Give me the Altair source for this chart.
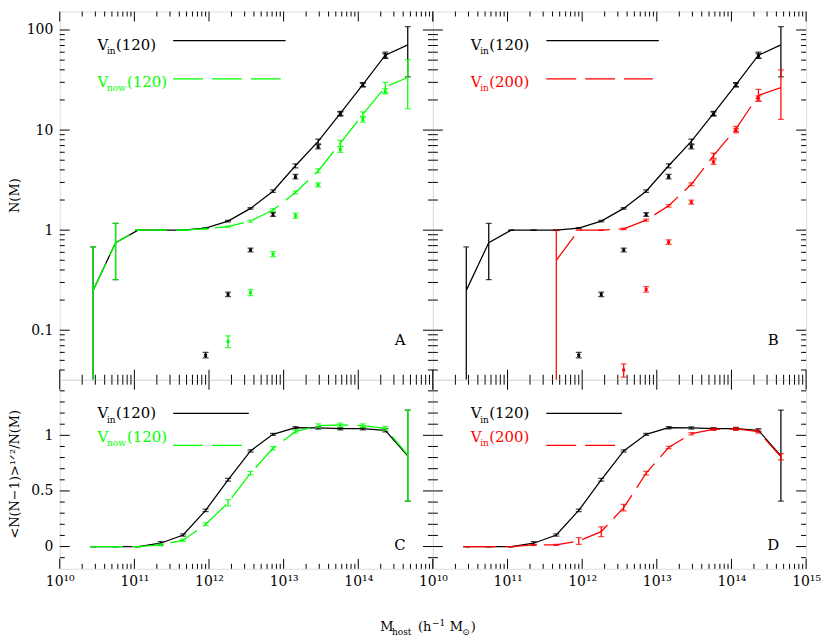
import altair as alt
import pandas as pd

FONT = "DejaVu Serif"
W, HT, HB = 375, 370, 190
BLACK, GREEN, RED = "#000000", "#00ff00", "#ff0000"
DASH = [30, 9]
LW = 1.25

# host-mass bin centres (h^-1 Msun)
MASS = [2.8e10, 5.6e10, 1.12e11, 2.24e11, 4.5e11, 9.0e11, 1.8e12, 3.6e12,
        7.2e12, 1.44e13, 2.9e13, 5.75e13, 1.15e14, 2.3e14, 4.6e14]

# ---------------- N(M) : panels A and B ----------------
N_IN120 = [0.25, 0.75, 1.0, 1.0, 1.0, 1.05, 1.23, 1.65, 2.45, 4.4, 7.7, 14.7, 28.5, 56, 71]
N_IN120_LO = [0.001, 0.32, 1.0, 1.0, 1.0, 1.04, 1.21, 1.62, 2.38, 4.2, 7.3, 14.0, 27.2, 52, 34]
N_IN120_HI = [0.68, 1.17, 1.0, 1.0, 1.0, 1.06, 1.25, 1.68, 2.52, 4.6, 8.1, 15.4, 29.8, 60, 108]

N_NOW120 = [0.25, 0.75, 1.0, 1.0, 1.0, 1.03, 1.085, 1.23, 1.59, 2.38, 3.9, 7.4, 14.3, 27, 33.5]
N_NOW120_LO = [0.001, 0.32, 1.0, 1.0, 1.0, 1.02, 1.07, 1.2, 1.54, 2.3, 3.75, 6.9, 13.5, 23.5, 16.3]
N_NOW120_HI = [0.68, 1.17, 1.0, 1.0, 1.0, 1.04, 1.10, 1.26, 1.64, 2.46, 4.1, 7.9, 15.2, 30, 50.5]

M_IN200 = MASS[4:]
N_IN200 = [0.5, 1.0, 1.0, 1.03, 1.26, 1.75, 2.87, 5.55, 10.3, 22.2, 26.6]
N_IN200_LO = [0.001, 1.0, 1.0, 1.01, 1.23, 1.70, 2.78, 5.2, 9.7, 19.5, 12.8]
N_IN200_HI = [1.0, 1.0, 1.0, 1.05, 1.29, 1.80, 2.97, 5.9, 10.9, 25.5, 40]

# isolated points (no line)
DOT_IN120_M = MASS[5:14]
DOT_IN120 = [0.056, 0.228, 0.633, 1.43, 3.41, 6.8, 14.4, 28.2, 55]
DOT_IN120_LO = [0.053, 0.217, 0.607, 1.37, 3.25, 6.5, 13.8, 27, 52.5]
DOT_IN120_HI = [0.060, 0.240, 0.660, 1.50, 3.6, 7.15, 15.1, 29.5, 58]

DOT_NOW120_M = MASS[6:14]
DOT_NOW120 = [0.077, 0.237, 0.575, 1.39, 2.83, 6.4, 12.8, 24.3]
DOT_NOW120_LO = [0.067, 0.222, 0.545, 1.31, 2.7, 6.0, 12.0, 23.0]
DOT_NOW120_HI = [0.088, 0.255, 0.610, 1.48, 2.97, 6.85, 13.7, 26.0]

DOT_IN200_M = MASS[7:14]
DOT_IN200 = [0.040, 0.255, 0.76, 1.9, 4.8, 9.9, 20.8]
DOT_IN200_LO = [0.034, 0.240, 0.72, 1.82, 4.55, 9.4, 19.5]
DOT_IN200_HI = [0.046, 0.272, 0.80, 1.99, 5.05, 10.4, 22.0]

# ---------------- <N(N-1)>^1/2 / N(M) : panels C and D ----------------
C_IN120 = [0, 0, 0, 0.03, 0.104, 0.325, 0.60, 0.86, 1.009, 1.069, 1.066, 1.060, 1.060, 1.045, 0.815]
C_IN120_LO = [0, 0, 0, 0.015, 0.094, 0.313, 0.588, 0.85, 1.0, 1.059, 1.056, 1.05, 1.048, 1.03, 0.408]
C_IN120_HI = [0, 0, 0, 0.045, 0.114, 0.337, 0.612, 0.87, 1.018, 1.079, 1.076, 1.07, 1.072, 1.06, 1.227]

C_NOW120 = [0, 0, 0, 0.015, 0.057, 0.20, 0.393, 0.66, 0.884, 1.033, 1.087, 1.093, 1.087, 1.063, 0.825]
C_NOW120_LO = [0, 0, 0, 0.005, 0.047, 0.188, 0.365, 0.645, 0.87, 1.02, 1.07, 1.076, 1.07, 1.045, 0.408]
C_NOW120_HI = [0, 0, 0, 0.025, 0.067, 0.212, 0.421, 0.675, 0.898, 1.046, 1.104, 1.11, 1.104, 1.081, 1.227]

C_IN200 = [0, 0, 0, 0.015, 0.015, 0.05, 0.134, 0.35, 0.66, 0.89, 1.015, 1.054, 1.057, 1.033, 0.807]
C_IN200_LO = [0, 0, 0, 0.01, 0.01, 0.02, 0.09, 0.32, 0.645, 0.88, 1.005, 1.044, 1.045, 1.02, 0.78]
C_IN200_HI = [0, 0, 0, 0.02, 0.02, 0.08, 0.178, 0.38, 0.675, 0.90, 1.025, 1.064, 1.069, 1.046, 0.835]

# ---------------- axes / ticks ----------------
X_DOMAIN = [1e10, 1e15]
Y_TOP_DOMAIN = [0.032, 153]
Y_BOT_DOMAIN = [-0.2, 1.5]
X_EXPONENTS = [10, 11, 12, 13, 14, 15]
X_MAJOR = [1e10, 1e11, 1e12, 1e13, 1e14, 1e15]
X_MINOR = [k * 10.0 ** e for e in range(10, 15) for k in range(2, 10)]
YT_MAJOR = [0.1, 1, 10, 100]
YT_LABELS = [0.1, 1, 10, 100]
YT_MINOR = [v for v in (k * 10.0 ** e for e in range(-2, 3) for k in range(2, 10))
            if Y_TOP_DOMAIN[0] <= v <= Y_TOP_DOMAIN[1]]
YB_MAJOR = [0, 0.5, 1.0]
YB_LABELS = [0, 0.5, 1]
YB_MINOR = [-0.1, 0.1, 0.2, 0.3, 0.4, 0.6, 0.7, 0.8, 0.9, 1.1, 1.2, 1.3, 1.4]

SUP = str.maketrans("0123456789-", "⁰¹²³⁴⁵⁶⁷⁸⁹⁻")
LABEL_SIZE = 14


def x_axis(exps):
    if not exps:
        return None
    expr = " : ".join(f"round(log(datum.value)/LN10) == {e} ? '10{str(e).translate(SUP)}'"
                      for e in exps) + " : ''"
    return alt.Axis(values=[10.0 ** e for e in exps], labelExpr=expr, ticks=False, tickSize=0,
                    domain=False, grid=False, title=None, labelFont=FONT,
                    labelFontSize=LABEL_SIZE, labelPadding=6, labelColor="black",
                    labelFlush=False, labelOverlap=False)


def y_axis(vals):
    if not vals:
        return None
    return alt.Axis(values=vals, format="~g", ticks=False, tickSize=0, domain=False, grid=False,
                    title=None, labelFont=FONT, labelFontSize=LABEL_SIZE, labelPadding=7,
                    labelColor="black", labelOverlap=False)


def make_panel(top, xexps, ylabels, series, dots, legend, letter):
    H = HT if top else HB
    xscale = alt.Scale(type="log", domain=X_DOMAIN, nice=False)
    if top:
        yscale = alt.Scale(type="log", domain=Y_TOP_DOMAIN, nice=False)
    else:
        yscale = alt.Scale(type="linear", domain=Y_BOT_DOMAIN, nice=False, zero=False)
    xax = x_axis(xexps)
    yax = y_axis(ylabels)

    def X():
        return alt.X("m:Q", scale=xscale, axis=xax)

    def Y(field="n"):
        return alt.Y(f"{field}:Q", scale=yscale, axis=yax)

    layers = []
    # inward ticks on all four edges
    ymaj, ymin = (YT_MAJOR, YT_MINOR) if top else (YB_MAJOR, YB_MINOR)
    for vals, ln in ((X_MAJOR, 10), (X_MINOR, 5)):
        d = pd.DataFrame({"m": vals})
        layers.append(alt.Chart(d).mark_rule(color="black", strokeWidth=1).encode(
            x=X(), y=alt.value(0), y2=alt.value(ln)))
        layers.append(alt.Chart(d).mark_rule(color="black", strokeWidth=1).encode(
            x=X(), y=alt.value(H - ln), y2=alt.value(H)))
    for vals, ln in ((ymaj, 10), (ymin, 5)):
        d = pd.DataFrame({"n": vals})
        layers.append(alt.Chart(d).mark_rule(color="black", strokeWidth=1).encode(
            y=Y(), x=alt.value(0), x2=alt.value(ln)))
        layers.append(alt.Chart(d).mark_rule(color="black", strokeWidth=1).encode(
            y=Y(), x=alt.value(W - ln), x2=alt.value(W)))

    def errs(d, color):
        return [
            alt.Chart(d).mark_rule(color=color, strokeWidth=LW, clip=True).encode(
                x=X(), y=Y("lo"), y2="hi:Q"),
            alt.Chart(d).mark_tick(orient="horizontal", size=6, thickness=LW, color=color,
                                   clip=True).encode(x=X(), y=Y("lo")),
            alt.Chart(d).mark_tick(orient="horizontal", size=6, thickness=LW, color=color,
                                   clip=True).encode(x=X(), y=Y("hi")),
        ]

    for (m, n, lo, hi, color) in dots:
        d = pd.DataFrame({"m": m, "n": n, "lo": lo, "hi": hi})
        layers += errs(d, color)
        layers.append(alt.Chart(d).mark_point(shape="cross", angle=45, size=14, filled=True,
                                              opacity=1, strokeWidth=0, color=color, clip=True)
                      .encode(x=X(), y=Y()))
    for (m, n, lo, hi, color, dashed) in series:
        d = pd.DataFrame({"m": m, "n": n, "lo": lo, "hi": hi})
        kw = {"strokeDash": DASH} if dashed else {}
        layers.append(alt.Chart(d).mark_line(color=color, strokeWidth=LW, clip=True, **kw)
                      .encode(x=X(), y=Y()))
        layers += errs(d, color)

    def txt(px, py, s, size, color="black", align="left", angle=0, baseline="alphabetic"):
        d = pd.DataFrame({"px": [px], "py": [py], "t": [s]})
        kw = {"angle": angle} if angle else {}
        return alt.Chart(d).mark_text(font=FONT, fontSize=size, color=color, align=align,
                                      baseline=baseline, **kw).encode(
            x=alt.X("px:Q", scale=None), y=alt.Y("py:Q", scale=None), text="t:N")

    def hline(x1, x2, y, color, dashed):
        d = pd.DataFrame({"px": [x1], "px2": [x2], "py": [y]})
        kw = {"strokeDash": DASH} if dashed else {}
        return alt.Chart(d).mark_rule(color=color, strokeWidth=LW, **kw).encode(
            x=alt.X("px:Q", scale=None), x2="px2:Q", y=alt.Y("py:Q", scale=None))

    for (sub, label, color, dashed, base, line_y, x2, lab_x) in legend:
        layers.append(txt(38, base, "V", 15, color))
        layers.append(txt(47.5, base + 4.3, sub, 9, color))
        layers.append(txt(lab_x, base, label, 15, color))
        layers.append(hline(114, x2, line_y, color, dashed))

    layers.append(txt(W - 33, H - 35 if top else H - 19, letter, 15, align="center"))
    return layers, txt


# ---------------- panels ----------------
top_leg_A = [("in", "(120)", BLACK, False, 38.7, 29.3, 227, 56.5),
             ("now", "(120)", GREEN, True, 76.0, 67.7, 224, 67.5)]
top_leg_B = [("in", "(120)", BLACK, False, 38.7, 29.3, 227, 56.5),
             ("in", "(200)", RED, True, 76.0, 67.7, 221, 56.5)]
bot_leg_C = [("in", "(120)", BLACK, False, 38.7, 33.7, 190, 56.5),
             ("now", "(120)", GREEN, True, 62.7, 66.0, 184, 67.5)]
bot_leg_D = [("in", "(120)", BLACK, False, 38.7, 33.7, 190, 56.5),
             ("in", "(200)", RED, True, 62.7, 66.0, 184, 56.5)]

lay_A, txt = make_panel(
    True, [], YT_LABELS,
    [(MASS, N_IN120, N_IN120_LO, N_IN120_HI, BLACK, False),
     (MASS, N_NOW120, N_NOW120_LO, N_NOW120_HI, GREEN, True)],
    [(DOT_IN120_M, DOT_IN120, DOT_IN120_LO, DOT_IN120_HI, BLACK),
     (DOT_NOW120_M, DOT_NOW120, DOT_NOW120_LO, DOT_NOW120_HI, GREEN)],
    top_leg_A, "A")
lay_A.append(txt(-45, HT / 2, "N(M)", 13, angle=270, align="center", baseline="middle"))

lay_B, _ = make_panel(
    True, [], [],
    [(MASS, N_IN120, N_IN120_LO, N_IN120_HI, BLACK, False),
     (M_IN200, N_IN200, N_IN200_LO, N_IN200_HI, RED, True)],
    [(DOT_IN120_M, DOT_IN120, DOT_IN120_LO, DOT_IN120_HI, BLACK),
     (DOT_IN200_M, DOT_IN200, DOT_IN200_LO, DOT_IN200_HI, RED)],
    top_leg_B, "B")

lay_C, _ = make_panel(
    False, X_EXPONENTS[:-1], YB_LABELS,
    [(MASS, C_IN120, C_IN120_LO, C_IN120_HI, BLACK, False),
     (MASS, C_NOW120, C_NOW120_LO, C_NOW120_HI, GREEN, True)],
    [], bot_leg_C, "C")
lay_C.append(txt(-45, HB / 2, "<N(N−1)>¹ᐟ²/N(M)", 13, angle=270, align="center",
                 baseline="middle"))
# x-axis title  M_host (h^-1 M_sun)
lay_C += [txt(322, 253, "M", 13), txt(334, 256.5, "host", 9),
          txt(360, 253, "(h", 13), txt(374, 247, "−1", 9),
          txt(392, 253, "M", 13), txt(404.5, 256.5, "⊙", 9), txt(413, 253, ")", 13)]

lay_D, _ = make_panel(
    False, X_EXPONENTS, [],
    [(MASS, C_IN120, C_IN120_LO, C_IN120_HI, BLACK, False),
     (MASS, C_IN200, C_IN200_LO, C_IN200_HI, RED, True)],
    [], bot_leg_D, "D")

pA = alt.layer(*lay_A).properties(width=W, height=HT)
pB = alt.layer(*lay_B).properties(width=W, height=HT)
pC = alt.layer(*lay_C).properties(width=W, height=HB)
pD = alt.layer(*lay_D).properties(width=W, height=HB)

chart = alt.concat(
    pA, pB, pC, pD, columns=2, spacing=0, bounds="flush", align="each",
).properties(
    padding={"left": 0, "top": 1, "right": 0, "bottom": 0}
).configure_view(stroke="black", strokeWidth=1).configure(background="white")

chart.save("out.html", embed_options={"renderer": "svg", "actions": False})
